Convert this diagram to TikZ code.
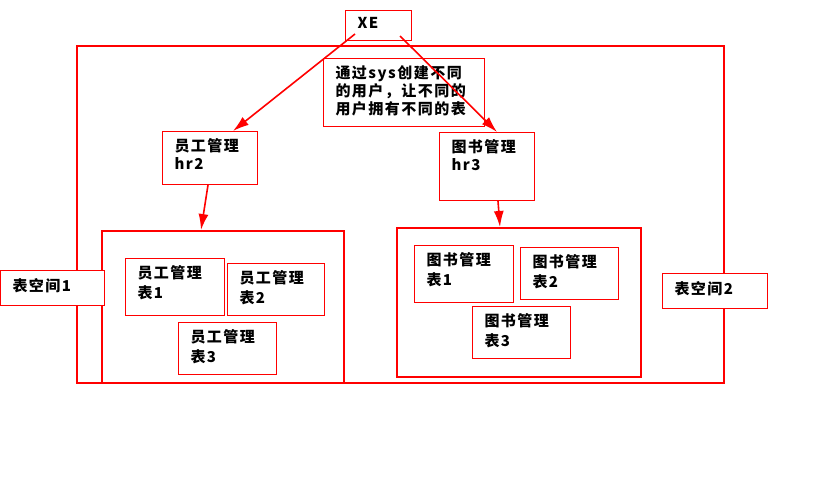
\documentclass[tikz,border=0pt]{standalone}
\usepackage{fontspec}
\setmainfont{Noto Sans CJK SC}[LetterSpace=10]
\usetikzlibrary{arrows.meta}
\tikzset{
  frame/.style={draw=red, line width=2pt, anchor=north west, inner sep=0pt},
  cell/.style={draw=red, fill=white, line width=1pt, anchor=north west, inner sep=0pt},
  link/.style={-{Latex[length=16pt,width=10pt]}, red, line width=1.6pt},
}
% box text: width, height, baselineskip, text (top left, like the drawing tool does)
\newcommand{\celltext}[4]{%
  \parbox[c][#2pt][t]{#1pt}{\raggedright\leftskip=10pt\fontsize{15pt}{#3pt}\selectfont\bfseries\vspace*{5pt}#4}}
\begin{document}
\begin{tikzpicture}[x=1pt, y=-1pt]
    \useasboundingbox (0,0) rectangle (825,477);
    % tablespaces
    \node[frame, minimum width=647pt, minimum height=337pt] (outer) at (76,45) {};
    \node[frame, minimum width=242pt, minimum height=152pt] (ts1) at (101,230) {};
    \node[frame, minimum width=244pt, minimum height=149pt] (ts2) at (396,227) {};
    % tables
    \node[cell, minimum width=99pt, minimum height=57pt] (t1) at (125,258) {\celltext{95}{53}{20}{员工管理\\表1}};
    \node[cell, minimum width=97pt, minimum height=52pt] (t2) at (227,263) {\celltext{93}{48}{20}{员工管理\\表2}};
    \node[cell, minimum width=98pt, minimum height=52pt] (t3) at (178,322) {\celltext{94}{48}{20}{员工管理\\表3}};
    \node[cell, minimum width=99pt, minimum height=57pt] (b1) at (414,245) {\celltext{95}{53}{20}{图书管理\\表1}};
    \node[cell, minimum width=98pt, minimum height=52pt] (b2) at (520,247) {\celltext{94}{48}{20}{图书管理\\表2}};
    \node[cell, minimum width=98pt, minimum height=52pt] (b3) at (472,306) {\celltext{94}{48}{20}{图书管理\\表3}};
    \node[cell, minimum width=104pt, minimum height=35pt] (sp1) at (0,270) {\celltext{100}{31}{18}{\vspace*{1pt}表空间1}};
    \node[cell, minimum width=105pt, minimum height=35pt] (sp2) at (662,273) {\celltext{101}{31}{18}{\vspace*{1pt}表空间2}};
    % users
    \node[cell, minimum width=95pt, minimum height=53pt] (hr2) at (162,131) {\celltext{91}{49}{18}{员工管理\\hr2}};
    \node[cell, minimum width=95pt, minimum height=68pt] (hr3) at (439,132) {\celltext{91}{64}{18}{图书管理\\hr3}};
    \node[cell, minimum width=161pt, minimum height=68pt] (note) at (323,58) {\celltext{157}{64}{18}{通过sys创建不同\\的用户，让不同的\\用户拥有不同的表}};
    \node[cell, minimum width=66pt, minimum height=30pt] (xe) at (345,10) {\celltext{62}{26}{18}{XE}};
    % arrows
    \draw[link] ([xshift=10pt,yshift=7pt]xe.south west) -- ([xshift=71pt]hr2.north west);
    \draw[link] ([xshift=55pt,yshift=5pt]xe.south west) -- ([xshift=58pt]hr3.north west);
    \draw[link] ([xshift=46pt]hr2.south west) -- ([xshift=100pt]ts1.north west);
    \draw[link] ([xshift=59pt]hr3.south west) -- ([xshift=104pt]ts2.north west);
\end{tikzpicture}
\end{document}
